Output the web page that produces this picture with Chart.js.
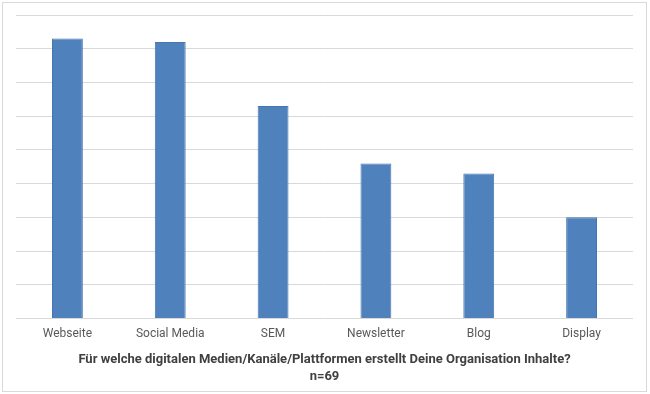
<!DOCTYPE html>
<html>
<head>
<meta charset="utf-8">
<script src="https://cdn.jsdelivr.net/npm/chart.js@4"></script>
<style>
  html, body { margin: 0; padding: 0; background: #fff; }
  #frame { position: absolute; left: 2px; top: 2px; width: 643px; height: 388px; border: 1px solid #d9d9d9; }
  #box { position: absolute; left: 0; top: 0; width: 650px; height: 394px; }
</style>
</head>
<body>
<div id="frame"></div>
<div id="box"><canvas id="chart" width="650" height="394"></canvas></div>
<script>
(function(){
  var categories = ["Webseite", "Social Media", "SEM", "Newsletter", "Blog", "Display"];
  var values = [83, 82, 63, 46, 43, 30];
  var axisTitle = ["Für welche digitalen Medien/Kanäle/Plattformen erstellt Deine Organisation Inhalte?", "n=69"];

  var ctx = document.getElementById("chart");
  new Chart(ctx, {
    type: "bar",
    data: {
      labels: categories,
      datasets: [{
        data: values,
        backgroundColor: "#4f81bd",
        borderColor: "#4675b0",
        borderWidth: 1,
        barPercentage: 0.3,
        categoryPercentage: 1
      }]
    },
    options: {
      responsive: false,
      animation: false,
      layout: { padding: { left: 16, right: 17, top: 15, bottom: 8 } },
      plugins: { legend: { display: false }, tooltip: { enabled: false } },
      scales: {
        x: {
          grid: { display: false },
          border: { display: false },
          ticks: { color: "#595959", font: { family: "Roboto", size: 12 }, padding: 0 },
          title: {
            display: true,
            text: axisTitle,
            color: "#404040",
            font: { family: "Roboto", size: 13, weight: "bold", lineHeight: 1.35 },
            padding: { top: 10, bottom: 0 }
          }
        },
        y: {
          min: 0, max: 90,
          ticks: { display: false, stepSize: 10 },
          border: { display: false },
          grid: { color: "#d9d9d9", lineWidth: 1, drawTicks: false }
        }
      }
    }
  });
})();
</script>
</body>
</html>
